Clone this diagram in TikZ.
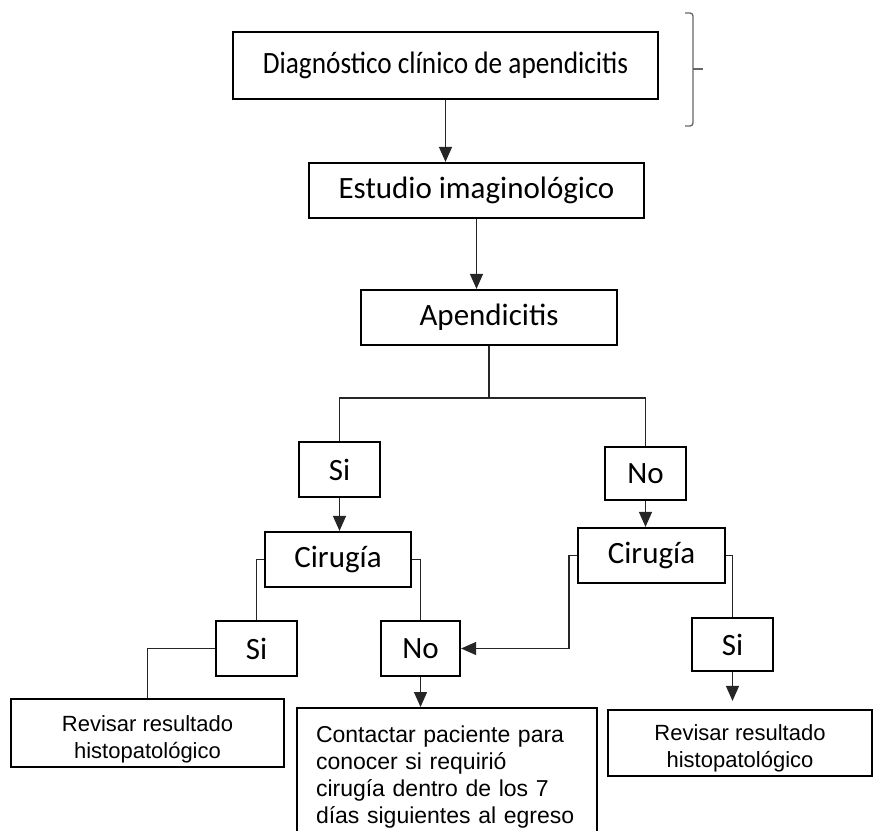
\documentclass[tikz,border=0pt]{standalone}
\usepackage{fontspec}
\setmainfont{Carlito}
\newfontfamily\carlitoest{Carlito}[FakeStretch=0.88]
\newfontfamily\arialf{Liberation Sans}
\usetikzlibrary{arrows.meta}

\tikzset{
  caja/.style={draw,line width=2.2pt,inner sep=0pt,font=\fontsize{31}{36}\selectfont},
  cajatxt/.style={draw,line width=2.2pt,inner sep=0pt,align=center,font=\arialf\fontsize{22}{27}\selectfont},
  linea/.style={line width=1.3pt,black!85},
  flecha/.style={linea,-{Triangle[width=13pt,length=15pt]}}
}

\begin{document}
\begin{tikzpicture}[x=1pt,y=-1pt]
  \clip (0,0) rectangle (874,830);
  \node[caja,minimum width=425pt,minimum height=67pt,font=\carlitoest\fontsize{31}{36}\selectfont] (diag) at (445.5,65.5) {Diagnóstico clínico de apendicitis};
  \node[caja,minimum width=335pt,minimum height=55pt] (estudio) at (476.5,190.5) {Estudio imaginológico};
  \node[caja,minimum width=256pt,minimum height=55pt] (apend) at (489,317.5) {Apendicitis};
  % primer nivel
  \node[caja,minimum width=81pt,minimum height=55pt] (si1) at (339.5,469.5) {Si};
  \node[caja,minimum width=81pt,minimum height=53pt] (no1) at (645.5,473.5) {No};
  \node[caja,minimum width=146pt,minimum height=55pt] (cir1) at (338,559.5) {Cirugía};
  \node[caja,minimum width=147pt,minimum height=55pt] (cir2) at (651.5,555.5) {Cirugía};
  % segundo nivel
  \node[caja,minimum width=81pt,minimum height=55pt] (si2) at (256.5,648.5) {Si};
  \node[caja,minimum width=79pt,minimum height=55pt] (no2) at (420.5,648.5) {No};
  \node[caja,minimum width=81pt,minimum height=53pt] (si3) at (732.5,644.5) {Si};
  % cajas finales
  \node[cajatxt,minimum width=273pt,minimum height=68pt,text height=57pt,text depth=6pt] (rev1) at (147.5,733) {Revisar resultado\\histopatológico};
  \node[cajatxt,align=left,text width=262pt,inner xsep=19pt,inner ysep=18pt,anchor=north,font=\arialf\fontsize{23}{27}\selectfont] (contacto) at (447,707) {Contactar paciente para\\conocer si requirió\\cirugía dentro de los 7\\días siguientes al egreso};
  \node[cajatxt,minimum width=264pt,minimum height=66pt,text height=55pt,text depth=6pt] (rev2) at (740,743) {Revisar resultado\\histopatológico};
  % llave
  \draw[black!60,line width=1.3pt,rounded corners=3pt] (685,13) -- (693,13) -- (693,126) -- (685,126);
  \draw[black!60,line width=1.3pt] (693,69) -- (703,69);
  % conectores
  \draw[flecha] (diag.south) -- (diag.south |- estudio.north);
  \draw[flecha] (estudio.south) -- (estudio.south |- apend.north);
  \draw[linea] (apend.south) -- ++(0,52) coordinate (rama) -| (si1.north);
  \draw[linea] (rama) -| (no1.north);
  \draw[flecha] (si1.south) -- (si1.south |- cir1.north);
  \draw[flecha] (no1.south) -- (no1.south |- cir2.north);
  \draw[linea] (cir1.west) -| (si2.north);
  \draw[linea] (cir1.east) -| (no2.north);
  \draw[flecha] (cir2.west) -- ++(-8,0) |- (no2.east);
  \draw[linea] (cir2.east) -| (si3.north);
  \draw[linea] (si2.west) -| (rev1.north);
  \draw[flecha] (no2.south) -- (no2.south |- contacto.north);
  \draw[flecha,shorten >=8pt] (si3.south) -- (si3.south |- rev2.north);
\end{tikzpicture}
\end{document}
